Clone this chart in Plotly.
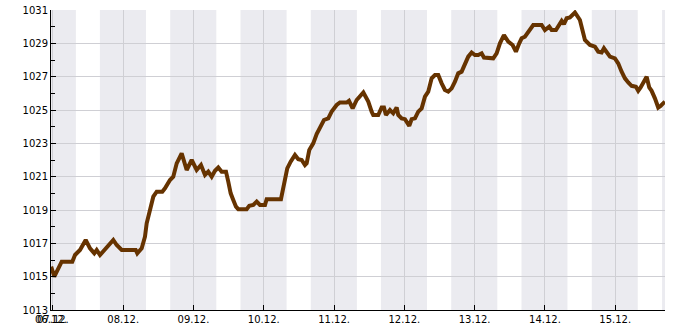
import pandas as pd
import plotly.graph_objects as go

# hours since 07.12. 00:00 and air pressure (hPa)
hours = [-0.6, 0.48, 3.0, 6.62, 7.55, 9.25, 11.2, 12.67, 14.13, 14.95, 16.08, 18.37, 20.62, 21.78, 23.49,
         28.27, 28.81, 30.32, 31.44, 32.02, 33.15, 34.28, 35.44, 37.35, 38.27, 39.98, 41.1, 42.27, 43.97,
         45.68, 47.39, 49.09, 50.56, 51.93, 53.05, 54.21, 55.34, 56.47, 57.63, 59.1, 59.88, 60.7, 61.59,
         62.51, 63.3, 66.16, 67.05, 68.42, 69.58, 70.7, 72.41, 72.99, 77.87, 78.66, 80.02, 81.18, 82.65,
         83.78, 84.94, 86.07, 86.65, 87.54, 88.9, 90.06, 91.19, 92.55, 94.02, 95.18, 96.89, 98.02, 100.3,
         101.09, 102.35, 103.72, 106.0, 107.68, 108.84, 109.38, 111.09, 112.25, 113.04, 113.72, 115.09,
         116.21, 117.37, 117.92, 119.08, 120.21, 121.68, 122.5, 123.62, 124.75, 125.91, 127.04, 128.16,
         129.32, 130.45, 131.58, 132.74, 133.86, 134.99, 136.15, 137.28, 138.4, 139.56, 140.69, 141.82,
         142.98, 144.1, 145.23, 146.39, 147.18, 150.35, 151.51, 152.64, 154.01, 155.47, 156.97, 158.1,
         159.23, 160.05, 161.17, 162.3, 164.01, 166.88, 168.0, 169.47, 170.29, 171.76, 172.89, 173.71,
         174.49, 175.41, 176.54, 178.25, 179.95, 180.53, 181.66, 183.37, 185.07, 186.2, 187.36, 188.15,
         189.07, 190.2, 191.9, 193.03, 194.19, 195.32, 196.44, 197.6, 199.07, 199.86, 200.68, 201.81,
         202.73, 203.62, 204.43, 205.56, 206.69, 207.51, 208.39, 208.97]
pressure = [1015.6, 1015.0, 1015.9, 1015.9, 1016.3, 1016.6, 1017.2, 1016.7, 1016.4, 1016.6, 1016.3, 1016.8,
            1017.2, 1016.9, 1016.6, 1016.6, 1016.4, 1016.7, 1017.4, 1018.2, 1019.0, 1019.8, 1020.1, 1020.1,
            1020.3, 1020.8, 1021.0, 1021.8, 1022.4, 1021.4, 1022.0, 1021.4, 1021.7, 1021.1, 1021.3, 1021.0,
            1021.35, 1021.55, 1021.3, 1021.3, 1020.7, 1020.0, 1019.6, 1019.2, 1019.05, 1019.05, 1019.25,
            1019.3, 1019.5, 1019.3, 1019.3, 1019.65, 1019.65, 1020.4, 1021.5, 1021.9, 1022.3, 1022.05,
            1022.0, 1021.7, 1021.8, 1022.6, 1023.0, 1023.55, 1023.9, 1024.4, 1024.5, 1024.9, 1025.3,
            1025.45, 1025.45, 1025.55, 1025.1, 1025.6, 1026.05, 1025.5, 1024.9, 1024.7, 1024.7, 1025.15,
            1025.15, 1024.7, 1025.0, 1024.8, 1025.15, 1024.7, 1024.5, 1024.45, 1024.05, 1024.45, 1024.5,
            1024.9, 1025.1, 1025.8, 1026.1, 1026.9, 1027.1, 1027.1, 1026.6, 1026.2, 1026.1, 1026.3, 1026.7,
            1027.2, 1027.3, 1027.8, 1028.2, 1028.45, 1028.3, 1028.3, 1028.4, 1028.15, 1028.1, 1028.4,
            1029.0, 1029.5, 1029.1, 1028.9, 1028.5, 1029.0, 1029.3, 1029.4, 1029.7, 1030.1, 1030.1, 1029.8,
            1030.0, 1029.8, 1029.8, 1030.1, 1030.35, 1030.15, 1030.5, 1030.55, 1030.85, 1030.4, 1029.9,
            1029.2, 1028.9, 1028.8, 1028.5, 1028.45, 1028.7, 1028.5, 1028.2, 1028.1, 1027.8, 1027.3,
            1026.9, 1026.65, 1026.45, 1026.4, 1026.15, 1026.35, 1026.7, 1027.0, 1026.35, 1026.15, 1025.7,
            1025.15, 1025.25, 1025.45, 1025.5]

# night periods (hours since 07.12. 00:00): start, end
night_start = [-0.65, 16.05, 40.05, 64.05, 88.05, 112.0, 136.0, 160.0, 184.0, 208.0]
night_end = [7.85, 31.8, 55.8, 79.8, 103.8, 127.75, 151.75, 175.7, 199.7, 209.0]

tick_hours = [-0.65, 0, 24, 48, 72, 96, 120, 144, 168, 192]
tick_labels = ["06.12.", "07.12.", "08.12.", "09.12.", "10.12.", "11.12.", "12.12.", "13.12.", "14.12.", "15.12."]

x_range_hours = [-0.65, 209.0]
y_range = [1013, 1031]
y_ticks = [1013, 1015, 1017, 1019, 1021, 1023, 1025, 1027, 1029, 1031]

base = pd.Timestamp("2023-12-07 00:00")
to_t = lambda hs: [base + pd.Timedelta(hours=h) for h in hs]

fig = go.Figure()
fig.add_trace(go.Scatter(x=to_t(hours), y=pressure, mode="lines",
                         line=dict(color="#663300", width=4), hoverinfo="skip"))

for s, e in zip(night_start, night_end):
    fig.add_shape(type="rect", xref="x", yref="paper", x0=base + pd.Timedelta(hours=s),
                  x1=base + pd.Timedelta(hours=e), y0=0, y1=1, fillcolor="#ebebf0",
                  line=dict(width=0), layer="below")

fig.update_layout(
    width=685, height=330, margin=dict(l=51, r=20, t=10, b=20),
    paper_bgcolor="white", plot_bgcolor="white", showlegend=False,
    font=dict(family="DejaVu Sans", size=10, color="black"),
)
fig.update_xaxes(range=to_t(x_range_hours), tickvals=to_t(tick_hours), ticktext=tick_labels,
                 tickangle=0, ticks="inside", ticklen=5, tickcolor="black", automargin=False,
                 showline=True, linecolor="black", linewidth=1, showgrid=True,
                 gridcolor="#cfcfd4", gridwidth=1, zeroline=False)
fig.update_yaxes(range=y_range, tickvals=y_ticks, ticks="inside", ticklen=5, tickcolor="black",
                 automargin=False,
                 showline=True, linecolor="black", linewidth=1, showgrid=True,
                 gridcolor="#cfcfd4", gridwidth=1, zeroline=False,
                 minor=dict(dtick=1, tick0=1013, ticks="inside", ticklen=4, tickcolor="black", showgrid=False))

fig.write_html("out.html")
